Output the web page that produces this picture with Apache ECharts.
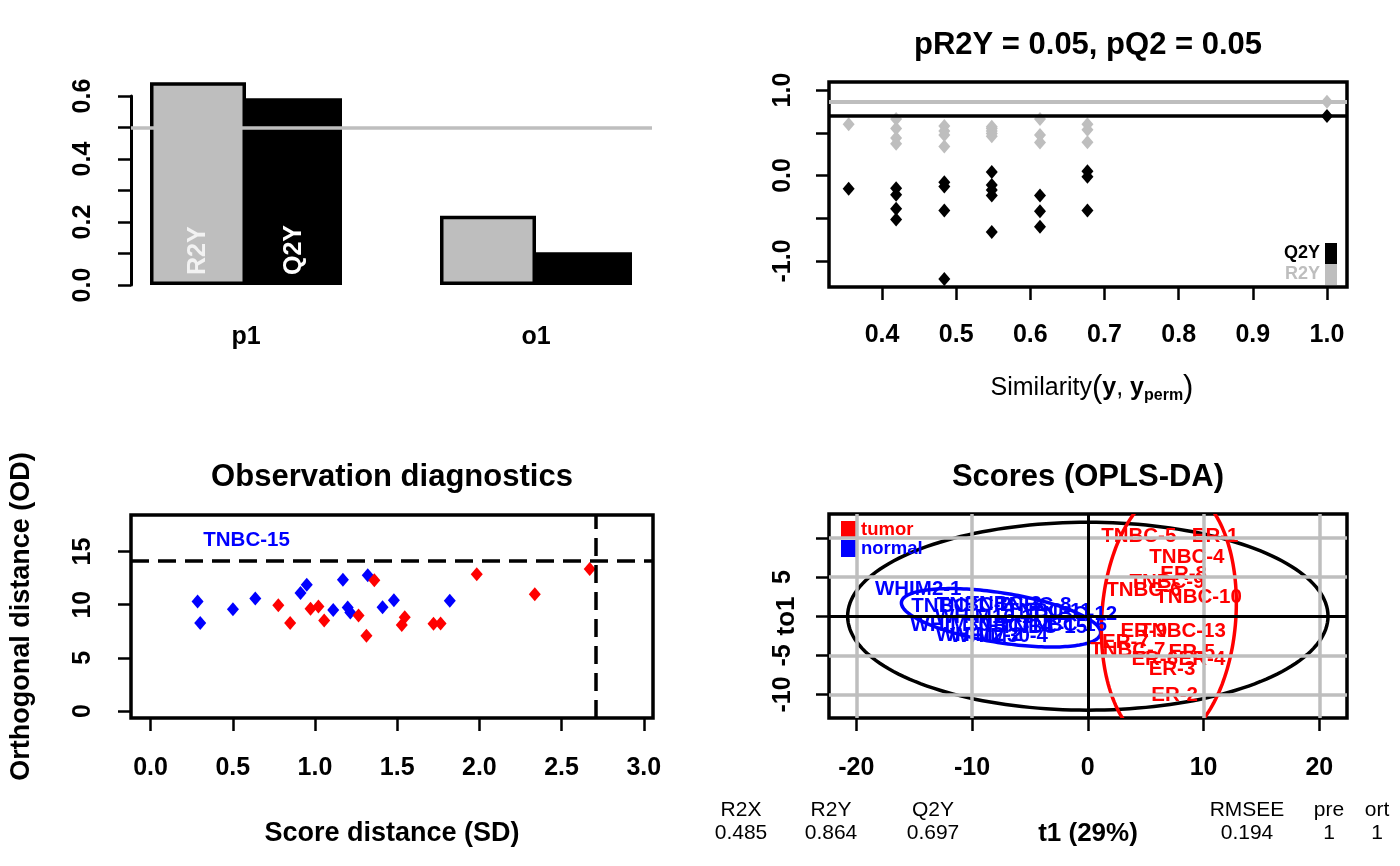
<!DOCTYPE html>
<html>
<head>
<meta charset="utf-8">
<script src="https://cdn.jsdelivr.net/npm/echarts@6/dist/echarts.min.js"></script>
<style>
html, body { margin: 0; background: #fff; }
#chart { width: 1400px; height: 866px; }
</style>
</head>
<body>
<div id="chart"></div>
<script>
const FONT = '"Liberation Sans", Arial, Helvetica, sans-serif';
const GREY = '#BEBEBE';

// --- model overview (top left)
const components = ['p1', 'o1'];
const r2yComp = [0.644, 0.220];
const q2yComp = [0.593, 0.104];
const r2yThreshold = 0.5;

// --- permutation test (top right)
const permTitle = 'pR2Y = 0.05, pQ2 = 0.05';
const permSim = [0.355, 0.419, 0.419, 0.419, 0.419, 0.484, 0.484, 0.484, 0.484,
    0.548, 0.548, 0.548, 0.548, 0.548, 0.613, 0.613, 0.613, 0.677, 0.677, 0.677];
const permR2Y = [0.60, 0.66, 0.55, 0.44, 0.37, 0.58, 0.52, 0.475, 0.34,
    0.57, 0.55, 0.52, 0.49, 0.46, 0.66, 0.475, 0.385, 0.60, 0.535, 0.39];
const permQ2Y = [-0.155, -0.15, -0.225, -0.39, -0.515, -0.08, -0.13, -0.41, -1.21,
    0.04, -0.11, -0.17, -0.235, -0.66, -0.235, -0.42, -0.60, 0.05, -0.015, -0.41];
const modelSim = 1.0;
const modelR2Y = 0.864;
const modelQ2Y = 0.697;

// --- observation diagnostics (bottom left)
const sdNormal = [0.286, 0.302, 0.501, 0.637, 0.912, 0.950, 1.111, 1.170, 1.199, 1.215, 1.321, 1.411, 1.480, 1.820];
const odNormal = [10.30, 8.27, 9.58, 10.59, 11.09, 11.87, 9.49, 12.34, 9.74, 9.27, 12.78, 9.77, 10.43, 10.37];
const sdTumor = [0.777, 0.849, 0.973, 1.021, 1.056, 1.265, 1.313, 1.361, 1.528, 1.546, 1.721, 1.764, 1.984, 2.337, 2.671];
const odTumor = [9.96, 8.27, 9.61, 9.83, 8.52, 8.99, 7.08, 12.31, 8.08, 8.83, 8.21, 8.24, 12.87, 10.99, 13.37];
const sdCutoff = 2.713;
const odCutoff = 14.16;
const flaggedName = 'TNBC-15';
const flaggedPos = [0.584, 16.03];

// --- scores (bottom right)
const tumorNames = ['TNBC-5', 'ER-1', 'TNBC-4', 'ER-8', 'TNBC-9', 'TNBC-6', 'TNBC-10', 'ER-9',
    'TNBC-13', 'ER-7', 'TNBC-7', 'ER-5', 'ER-6', 'ER-4', 'ER-3', 'ER-2'];
const tumorT1 = [4.40, 11.0, 8.56, 8.28, 6.84, 4.83, 9.57, 4.83, 8.19, 3.25, 3.45, 8.99, 5.78, 9.86, 7.27, 7.5];
const tumorTo1 = [10.23, 10.23, 7.56, 5.35, 4.29, 3.31, 2.46, -1.95, -1.95, -3.35, -4.42, -4.63, -5.56, -5.56, -6.75, -10.15];
const normalNames = ['WHIM2-1', 'TNBC-1', 'TNBC-2', 'TNBC-3', 'TNBC-8', 'TNBC-11', 'TNBC-12',
    'WHIM16-1', 'WHIM30-1', 'TNBC-14', 'TNBC-15', 'TNBC-16', 'WHIM30-4', 'WHIM2-2'];
const normalT1 = [-14.65, -12.0, -9.8, -7.24, -4.66, -3.36, -1.2, -8.97, -11.1, -6.8, -3.8, -2.07, -7.67, -9.4];
const normalTo1 = [3.44, 1.27, 1.4, 1.53, 1.4, 0.64, 0.25, -0.13, -1.15, -1.27, -1.4, -1.15, -2.55, -2.42];
// ellipses: centre (t1, to1) and two conjugate half-axis vectors
const ellipseParams = [
    [0, 0, 20.75, 0, 0, 12.0],
    [-7.5, -0.2, 8.6, -1.78, -0.31, 3.28],
    [7.0, 0, 5.8, 0, 0.6, 16.4],
];
const ellipseColors = ['#000000', '#0000FF', '#FF0000'];
const scoreGridX = [-20, -10, 10, 20];
const scoreGridY = [-10, -5, 5, 10];

const summaryHead = ['R2X', 'R2Y', 'Q2Y', 'RMSEE', 'pre', 'ort'];
const summaryVal = ['0.485', '0.864', '0.697', '0.194', '1', '1'];
const summaryX = [741, 831, 933, 1247, 1329, 1377];

const zip = (a, b) => a.map((v, i) => [v, b[i]]);
const named = (names, a, b) => names.map((n, i) => ({ name: n, value: [a[i], b[i]] }));

function boxAxis(gridIndex, min, max, ticks, labels, fmt, margin, rotate) {
    return {
        type: 'value', gridIndex, min, max,
        axisLine: { show: false, onZero: false },
        axisTick: { show: true, length: 13, customValues: ticks, lineStyle: { color: '#000', width: 2.5 } },
        axisLabel: {
            customValues: labels, formatter: fmt, margin, rotate: rotate || 0,
            color: '#000', fontFamily: FONT, fontWeight: 'bold', fontSize: 25,
        },
        splitLine: { show: false },
        nameMoveOverlap: false,
    };
}

const boxGrid = { show: true, borderColor: '#000', borderWidth: 3.5, backgroundColor: 'transparent' };
const fixed1 = v => v.toFixed(1);
const int = v => String(Math.round(v));
const noLine = { silent: true, symbol: ['none', 'none'], label: { show: false } };
const nameStyle = size => ({ color: '#000', fontFamily: FONT, fontWeight: 'bold', fontSize: size });
const hidden = { color: 'rgba(0,0,0,0)', opacity: 1 };
const sampleLabel = color => ({ show: true, position: 'inside', formatter: '{b}', color, opacity: 1,
    fontFamily: FONT, fontWeight: 'bold', fontSize: 20.5 });
const centred = (x, y, text, font) => ({
    type: 'text', x, y,
    style: { text, fill: '#000', font, align: 'center', verticalAlign: 'middle', textAlign: 'center', textVerticalAlign: 'middle' },
});

const chart = echarts.init(document.getElementById('chart'), null, { renderer: 'canvas' });

chart.setOption({
    animation: false,
    textStyle: { fontFamily: FONT },
    grid: [
        { left: 131, top: 96, width: 521, height: 189 },
        { left: 101, top: 96, width: 580, height: 189 },
        Object.assign({ left: 829, top: 82, width: 518, height: 205 }, boxGrid),
        Object.assign({ left: 131, top: 515, width: 522, height: 203 }, boxGrid),
        Object.assign({ left: 829, top: 514, width: 518, height: 204 }, boxGrid),
    ],
    xAxis: [
        { type: 'value', gridIndex: 0, min: 0.8, max: 6.2, show: false },
        {
            type: 'category', gridIndex: 1, data: components,
            axisLine: { show: false }, axisTick: { show: false },
            axisLabel: { margin: 40, color: '#000', fontFamily: FONT, fontWeight: 'bold', fontSize: 25 },
        },
        boxAxis(2, 0.3285, 1.027, [0.4, 0.5, 0.6, 0.7, 0.8, 0.9, 1.0], [0.4, 0.5, 0.6, 0.7, 0.8, 0.9, 1.0], fixed1, 36),
        Object.assign(boxAxis(3, -0.119, 3.056, [0, 0.5, 1, 1.5, 2, 2.5, 3], [0, 0.5, 1, 1.5, 2, 2.5, 3], fixed1, 38), {
            name: 'Score distance (SD)', nameLocation: 'middle', nameGap: 102, nameTextStyle: nameStyle(27),
        }),
        Object.assign(boxAxis(4, -22.36, 22.39, [-20, -10, 0, 10, 20], [-20, -10, 0, 10, 20], int, 38), {
            name: 't1 (29%)', nameLocation: 'middle', nameGap: 103, nameTextStyle: nameStyle(26),
        }),
    ],
    yAxis: [
        {
            type: 'value', gridIndex: 0, min: 0, max: 0.6,
            axisLine: { show: true, onZero: false, lineStyle: { color: '#000', width: 3 } },
            axisTick: { show: true, length: 13, customValues: [0, 0.1, 0.2, 0.3, 0.4, 0.5, 0.6], lineStyle: { color: '#000', width: 2.5 } },
            axisLabel: { customValues: [0, 0.2, 0.4, 0.6], formatter: fixed1, rotate: 90, margin: 35,
                color: '#000', fontFamily: FONT, fontWeight: 'bold', fontSize: 25 },
            splitLine: { show: false },
        },
        { type: 'value', gridIndex: 1, min: 0, max: 0.6, show: false },
        boxAxis(2, -1.305, 1.094, [-1, -0.5, 0, 0.5, 1], [-1, 0, 1], fixed1, 33, 90),
        Object.assign(boxAxis(3, -0.66, 18.44, [0, 5, 10, 15], [0, 5, 10, 15], int, 35, 90), {
            name: 'Orthogonal distance (OD)', nameLocation: 'middle', nameGap: 96, nameTextStyle: nameStyle(27),
        }),
        Object.assign(boxAxis(4, -13.0, 13.06, [-10, -5, 0, 5, 10], [-10, -5, 5], int, 33, 90), {
            name: 'to1', nameLocation: 'middle', nameGap: 29, nameTextStyle: nameStyle(26),
        }),
    ],
    legend: [
        {
            orient: 'vertical', right: 63, top: 243, padding: 0, itemGap: 0, align: 'right',
            itemWidth: 12, itemHeight: 21, icon: 'rect', selectedMode: false,
            itemStyle: { borderWidth: 0 },
            textStyle: { fontFamily: FONT, fontWeight: 'bold', fontSize: 18 },
            data: [
                { name: 'Q2Y', textStyle: { color: '#000' } },
                { name: 'R2Y', textStyle: { color: GREY } },
            ],
        },
        {
            orient: 'vertical', left: 841, top: 520, padding: 0, itemGap: 0, align: 'left',
            itemWidth: 15, itemHeight: 17, icon: 'rect', selectedMode: false,
            itemStyle: { borderWidth: 0 },
            textStyle: { fontFamily: FONT, fontWeight: 'bold', fontSize: 18.5 },
            data: [
                { name: 'tumor', textStyle: { color: '#FF0000' } },
                { name: 'normal', textStyle: { color: '#0000FF' } },
            ],
        },
    ],
    graphic: [
        centred(1088, 45, permTitle, `bold 31px ${FONT}`),
        centred(392, 477, 'Observation diagnostics', `bold 31px ${FONT}`),
        centred(1088, 477, 'Scores (OPLS-DA)', `bold 31px ${FONT}`),
        {
            type: 'text', x: 1092, y: 388,
            style: {
                text: '{n|Similarity}{p|(}{b|y}{n|, }{b|y}{s|perm}{p|)}',
                align: 'center', verticalAlign: 'middle', textAlign: 'center', textVerticalAlign: 'middle',
                rich: {
                    n: { fontFamily: FONT, fontSize: 25, lineHeight: 32, fill: '#000', color: '#000' },
                    p: { fontFamily: FONT, fontSize: 31, lineHeight: 32, fill: '#000', color: '#000' },
                    b: { fontFamily: FONT, fontSize: 25, fontWeight: 'bold', lineHeight: 32, fill: '#000', color: '#000' },
                    s: { fontFamily: FONT, fontSize: 16, fontWeight: 'bold', lineHeight: 16, verticalAlign: 'bottom', fill: '#000', color: '#000' },
                },
            },
        },
        ...summaryHead.map((t, i) => centred(summaryX[i], 810, t, `21px ${FONT}`)),
        ...summaryVal.map((t, i) => centred(summaryX[i], 833, t, `21px ${FONT}`)),
    ],
    series: [
        // top left
        {
            type: 'line', xAxisIndex: 0, yAxisIndex: 0, data: [], z: 1,
            markLine: Object.assign({ lineStyle: { color: GREY, width: 3.5, type: 'solid' }, data: [{ yAxis: r2yThreshold }] }, noLine),
        },
        {
            name: 'R2Y', type: 'bar', xAxisIndex: 1, yAxisIndex: 1, z: 3, clip: false,
            barWidth: 96, barGap: '0%',
            data: r2yComp.map((v, i) => ({ value: v, label: { show: i === 0 } })),
            itemStyle: { color: GREY, borderColor: '#000', borderWidth: 3.5 },
            label: { formatter: 'R2Y', position: 'insideBottom', rotate: 90, distance: 10, align: 'left', verticalAlign: 'middle',
                color: '#F2F2F2', fontFamily: FONT, fontWeight: 'bold', fontSize: 25 },
        },
        {
            name: 'Q2Y', type: 'bar', xAxisIndex: 1, yAxisIndex: 1, z: 3, clip: false,
            barWidth: 96,
            data: q2yComp.map((v, i) => ({ value: v, label: { show: i === 0 } })),
            itemStyle: { color: '#000', borderColor: '#000', borderWidth: 3.5 },
            label: { formatter: 'Q2Y', position: 'insideBottom', rotate: 90, distance: 10, align: 'left', verticalAlign: 'middle',
                color: '#FFFFFF', fontFamily: FONT, fontWeight: 'bold', fontSize: 25 },
        },
        // top right
        {
            name: 'R2Y', type: 'scatter', xAxisIndex: 2, yAxisIndex: 2, z: 3,
            symbol: 'diamond', symbolSize: [12, 14], itemStyle: { color: GREY, opacity: 1 },
            data: zip(permSim, permR2Y).concat([[modelSim, modelR2Y]]),
            markLine: Object.assign({ lineStyle: { color: GREY, width: 4, type: 'solid' }, data: [{ yAxis: modelR2Y }] }, noLine),
        },
        {
            name: 'Q2Y', type: 'scatter', xAxisIndex: 2, yAxisIndex: 2, z: 3,
            symbol: 'diamond', symbolSize: [12, 14], itemStyle: { color: '#000', opacity: 1 },
            data: zip(permSim, permQ2Y).concat([[modelSim, modelQ2Y]]),
            markLine: Object.assign({ lineStyle: { color: '#000', width: 3.5, type: 'solid' }, data: [{ yAxis: modelQ2Y }] }, noLine),
        },
        // bottom left
        {
            type: 'line', xAxisIndex: 3, yAxisIndex: 3, data: [], z: 1,
            markLine: Object.assign({ lineStyle: { color: '#000', width: 3.5, type: [18, 9] }, data: [{ xAxis: sdCutoff }, { yAxis: odCutoff }] }, noLine),
        },
        {
            name: 'normal', type: 'scatter', xAxisIndex: 3, yAxisIndex: 3, z: 3,
            symbol: 'diamond', symbolSize: [12, 14], itemStyle: { color: '#0000FF', opacity: 1 },
            data: zip(sdNormal, odNormal),
        },
        {
            name: 'tumor', type: 'scatter', xAxisIndex: 3, yAxisIndex: 3, z: 3,
            symbol: 'diamond', symbolSize: [12, 14], itemStyle: { color: '#FF0000', opacity: 1 },
            data: zip(sdTumor, odTumor),
        },
        {
            type: 'scatter', xAxisIndex: 3, yAxisIndex: 3, z: 4, symbolSize: 1,
            itemStyle: hidden,
            data: [{ name: flaggedName, value: flaggedPos }],
            label: sampleLabel('#0000FF'),
        },
        // bottom right
        {
            type: 'line', xAxisIndex: 4, yAxisIndex: 4, data: [], z: 1,
            markLine: Object.assign({
                lineStyle: { color: GREY, width: 3.5, type: 'solid' },
                data: scoreGridX.map(v => ({ xAxis: v })).concat(scoreGridY.map(v => ({ yAxis: v }))),
            }, noLine),
        },
        {
            type: 'line', xAxisIndex: 4, yAxisIndex: 4, data: [], z: 2,
            markLine: Object.assign({ lineStyle: { color: '#000', width: 3, type: 'solid' }, data: [{ xAxis: 0 }, { yAxis: 0 }] }, noLine),
        },
        {
            type: 'custom', xAxisIndex: 4, yAxisIndex: 4, z: 3, clip: true, silent: true,
            data: ellipseParams,
            encode: { x: 0, y: 1 },
            renderItem(params, api) {
                const [cx, cy, ux, uy, vx, vy] = [0, 1, 2, 3, 4, 5].map(k => api.value(k));
                const points = [];
                for (let i = 0; i <= 180; i++) {
                    const t = (i / 180) * Math.PI * 2;
                    const c = Math.cos(t), s = Math.sin(t);
                    points.push(api.coord([cx + ux * c + vx * s, cy + uy * c + vy * s]));
                }
                return {
                    type: 'polyline',
                    shape: { points },
                    style: { stroke: ellipseColors[params.dataIndex], lineWidth: 3.5, fill: 'none' },
                };
            },
        },
        {
            name: 'normal', type: 'scatter', xAxisIndex: 4, yAxisIndex: 4, z: 4, symbolSize: 1,
            itemStyle: hidden,
            data: named(normalNames, normalT1, normalTo1),
            label: sampleLabel('#0000FF'),
        },
        {
            name: 'tumor', type: 'scatter', xAxisIndex: 4, yAxisIndex: 4, z: 4, symbolSize: 1,
            itemStyle: hidden,
            data: named(tumorNames, tumorT1, tumorTo1),
            label: sampleLabel('#FF0000'),
        },
    ],
});

window.addEventListener('resize', () => chart.resize());
</script>
</body>
</html>
